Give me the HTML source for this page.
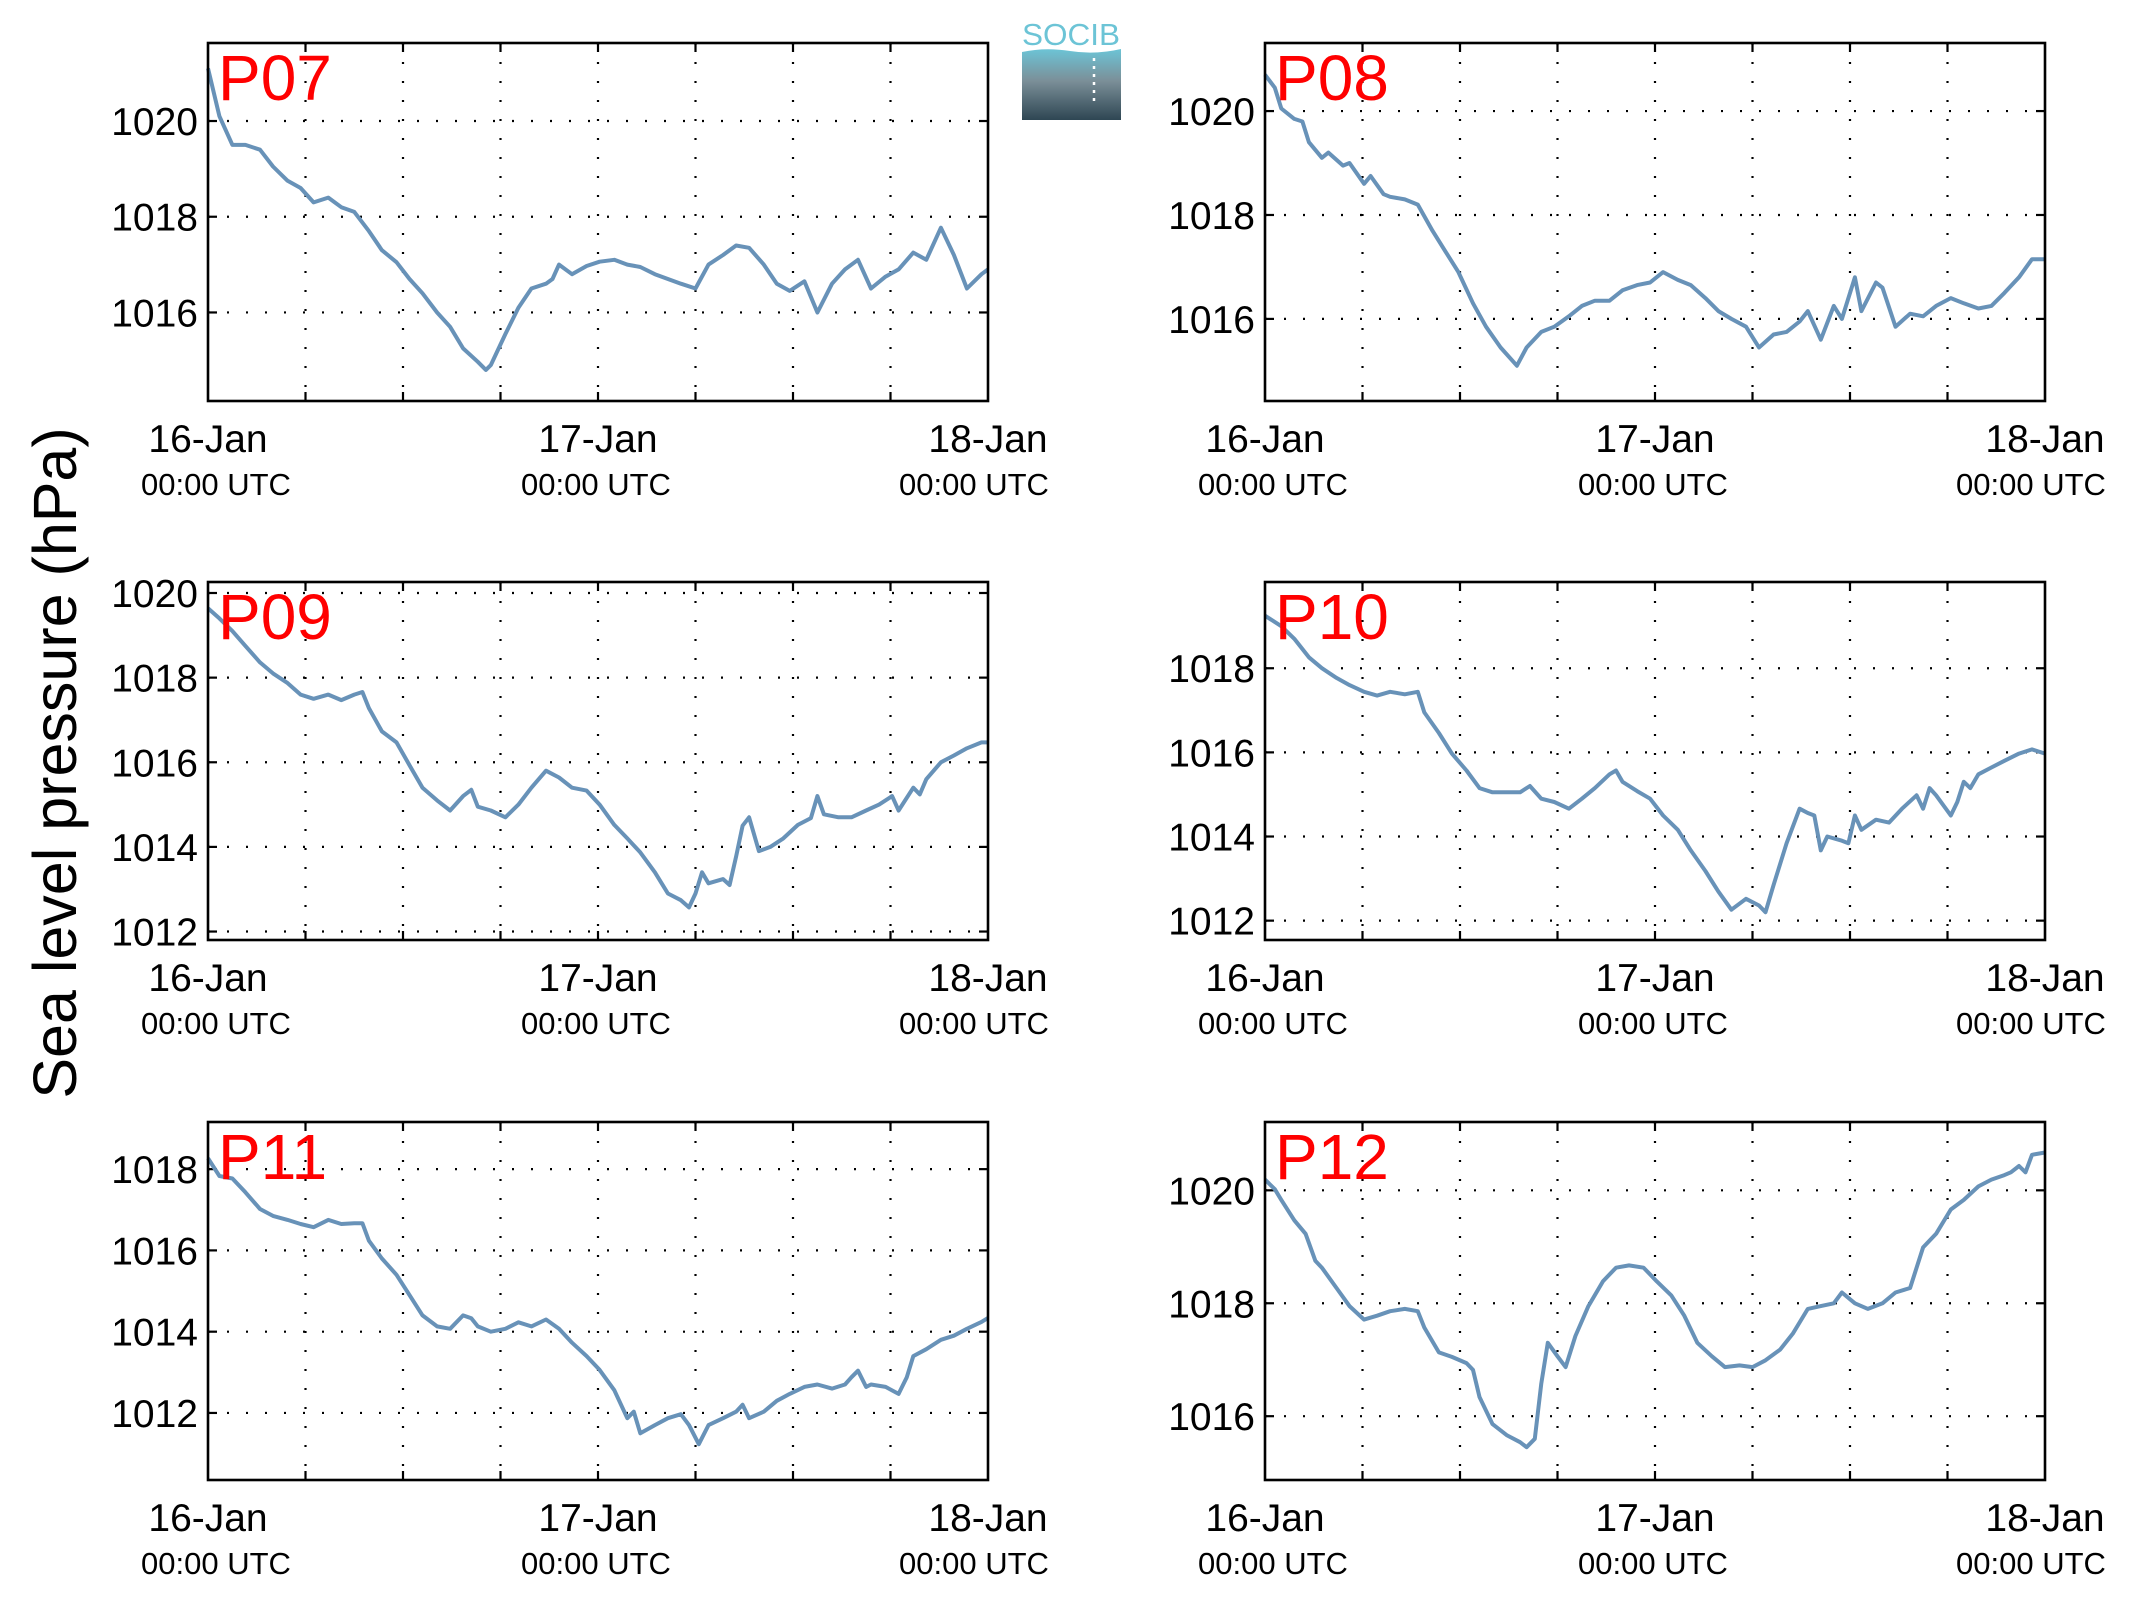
<!DOCTYPE html>
<html><head><meta charset="utf-8"><style>
html,body{margin:0;padding:0;background:#fff;}
svg{display:block;font-family:"Liberation Sans",Arial,sans-serif;}
</style></head><body>
<svg id="chart" width="2138" height="1608" viewBox="0 0 2138 1608" xmlns="http://www.w3.org/2000/svg">
<defs>
<linearGradient id="lg" x1="0" y1="0" x2="0" y2="1">
<stop offset="0" stop-color="#6cc4d6"/><stop offset="0.45" stop-color="#7b8f98"/><stop offset="1" stop-color="#2e4653"/>
</linearGradient>
</defs>
<text transform="translate(76,763) rotate(-90)" text-anchor="middle" font-size="61" fill="#000">Sea level pressure (hPa)</text>
<g>
<text x="1071" y="45" text-anchor="middle" font-size="31" fill="#6cc4d6" textLength="98" lengthAdjust="spacingAndGlyphs">SOCIB</text>
<path d="M1022,52 Q1045,47 1070,51 Q1095,55 1121,49 L1121,120 L1022,120 Z" fill="url(#lg)"/>
<line x1="1094" y1="58" x2="1094" y2="106" stroke="#fff" stroke-width="2.5" stroke-dasharray="3,5"/>
</g>
<g id="panels"></g>
</svg>
<script>
// ---- data (hours since 16-Jan 00:00 UTC, pressure hPa) ----
const xTickLabels = ["16-Jan","17-Jan","18-Jan"];
const xTickSub = "00:00 UTC";
const p07Hours = [0,0.7,1.5,2.3,3.2,4.0,4.9,5.7,6.5,7.4,8.2,9.0,9.9,10.7,11.6,12.4,13.2,14.1,14.9,15.7,16.6,17.1,17.4,18.3,19.1,19.9,20.8,21.2,21.6,22.4,23.3,24.1,25.0,25.8,26.6,27.5,28.3,29.1,30.0,30.8,31.7,32.5,33.3,34.2,35.0,35.8,36.7,37.5,38.4,39.2,40.0,40.8,41.7,42.5,43.4,44.2,45.1,45.9,46.7,47.6,48];
const p07Values = [1021.1,1020.1,1019.5,1019.5,1019.4,1019.05,1018.75,1018.6,1018.3,1018.4,1018.2,1018.1,1017.7,1017.3,1017.05,1016.7,1016.4,1016.0,1015.7,1015.25,1014.97,1014.8,1014.9,1015.55,1016.1,1016.5,1016.6,1016.7,1017.0,1016.8,1016.97,1017.06,1017.1,1017.0,1016.95,1016.8,1016.7,1016.6,1016.5,1017.0,1017.2,1017.4,1017.35,1017.0,1016.6,1016.45,1016.65,1016.0,1016.6,1016.9,1017.1,1016.5,1016.75,1016.9,1017.25,1017.1,1017.77,1017.2,1016.5,1016.8,1016.9];
const p08Hours = [0,0.6,1.0,1.8,2.3,2.7,3.5,3.9,4.8,5.2,6.1,6.5,7.3,7.7,8.6,9.4,10.3,11.1,11.9,12.8,13.6,14.5,15.5,16.1,17.0,17.8,18.7,19.5,20.3,21.2,22.0,22.9,23.7,24.5,25.4,26.2,27.1,27.9,28.7,29.6,30.4,31.3,32.1,32.9,33.4,34.2,35.0,35.5,36.3,36.7,37.6,38.0,38.8,39.7,40.5,41.3,42.2,43.0,43.9,44.7,45.5,46.4,47.2,48];
const p08Values = [1020.7,1020.45,1020.05,1019.85,1019.8,1019.4,1019.1,1019.2,1018.95,1019.0,1018.6,1018.75,1018.4,1018.35,1018.3,1018.2,1017.7,1017.3,1016.9,1016.3,1015.85,1015.45,1015.1,1015.45,1015.75,1015.85,1016.05,1016.25,1016.35,1016.35,1016.55,1016.65,1016.7,1016.9,1016.75,1016.65,1016.4,1016.15,1016.0,1015.85,1015.45,1015.7,1015.75,1015.95,1016.15,1015.6,1016.25,1016.0,1016.8,1016.15,1016.7,1016.6,1015.85,1016.1,1016.05,1016.25,1016.4,1016.3,1016.2,1016.25,1016.5,1016.8,1017.15,1017.15];
const p09Hours = [0,0.7,1.5,2.3,3.2,4.0,4.9,5.7,6.5,7.4,8.2,9.0,9.5,9.9,10.7,11.6,12.4,13.2,14.1,14.9,15.7,16.2,16.6,17.4,18.3,19.1,19.9,20.8,21.6,22.4,23.3,24.1,25.0,25.8,26.6,27.5,28.3,29.1,29.6,30.0,30.4,30.8,31.7,32.1,32.5,32.9,33.3,33.9,34.6,35.4,36.3,37.1,37.5,37.9,38.8,39.6,40.5,41.3,42.1,42.5,43.4,43.8,44.2,45.1,45.9,46.7,47.6,48];
const p09Values = [1019.64,1019.4,1019.1,1018.75,1018.36,1018.1,1017.87,1017.6,1017.5,1017.6,1017.47,1017.6,1017.66,1017.28,1016.73,1016.47,1015.93,1015.4,1015.1,1014.86,1015.2,1015.35,1014.95,1014.86,1014.7,1015.0,1015.4,1015.8,1015.64,1015.4,1015.33,1015.0,1014.52,1014.2,1013.87,1013.4,1012.9,1012.74,1012.57,1012.9,1013.4,1013.14,1013.24,1013.1,1013.77,1014.5,1014.7,1013.9,1014.0,1014.2,1014.52,1014.68,1015.2,1014.77,1014.7,1014.7,1014.86,1015.0,1015.2,1014.86,1015.4,1015.24,1015.6,1016.0,1016.16,1016.33,1016.47,1016.47];
const p10Hours = [0,1.0,1.8,2.7,3.5,4.4,5.2,6.1,6.9,7.7,8.6,9.4,9.8,10.7,11.5,12.4,13.2,14.0,14.9,15.7,16.3,17.0,17.8,18.7,19.5,20.3,21.2,21.6,22.0,22.9,23.7,24.5,25.4,26.2,27.1,27.9,28.7,29.6,30.4,30.8,31.3,32.1,32.9,33.4,33.8,34.2,34.6,35.5,35.9,36.3,36.7,37.6,38.4,39.2,40.1,40.5,40.9,41.3,42.2,42.6,43.0,43.4,43.9,44.7,45.5,46.4,47.2,48];
const p10Values = [1019.25,1019.0,1018.7,1018.26,1018.0,1017.77,1017.6,1017.44,1017.35,1017.44,1017.38,1017.44,1016.95,1016.46,1015.97,1015.57,1015.15,1015.05,1015.05,1015.05,1015.2,1014.9,1014.82,1014.66,1014.9,1015.15,1015.48,1015.57,1015.3,1015.08,1014.9,1014.5,1014.16,1013.67,1013.18,1012.69,1012.26,1012.52,1012.36,1012.2,1012.85,1013.84,1014.66,1014.56,1014.5,1013.67,1014.0,1013.9,1013.84,1014.5,1014.16,1014.4,1014.33,1014.66,1014.98,1014.66,1015.15,1014.98,1014.5,1014.82,1015.3,1015.15,1015.48,1015.64,1015.8,1015.97,1016.07,1015.97];
const p11Hours = [0,0.7,1.5,2.3,3.2,4.0,4.9,5.7,6.5,7.4,8.2,9.0,9.5,9.9,10.7,11.6,12.4,13.2,14.1,14.9,15.7,16.2,16.6,17.4,18.3,19.1,19.9,20.8,21.6,22.4,23.3,24.1,25.0,25.8,26.2,26.6,27.5,28.3,29.1,29.6,30.2,30.8,31.7,32.5,32.9,33.3,34.2,35.0,35.8,36.7,37.5,38.4,39.2,39.6,40.0,40.5,40.8,41.7,42.5,43.0,43.4,44.2,45.1,45.9,46.7,47.6,48];
const p11Values = [1018.27,1017.83,1017.77,1017.43,1017.02,1016.85,1016.75,1016.65,1016.57,1016.75,1016.65,1016.67,1016.67,1016.24,1015.8,1015.4,1014.9,1014.4,1014.13,1014.07,1014.4,1014.33,1014.13,1014.0,1014.07,1014.23,1014.13,1014.3,1014.07,1013.73,1013.4,1013.06,1012.56,1011.87,1012.03,1011.5,1011.7,1011.87,1011.97,1011.7,1011.23,1011.7,1011.87,1012.03,1012.2,1011.87,1012.03,1012.3,1012.47,1012.64,1012.7,1012.6,1012.7,1012.88,1013.04,1012.64,1012.7,1012.64,1012.47,1012.88,1013.4,1013.57,1013.8,1013.9,1014.07,1014.24,1014.34];
const p12Hours = [0,0.6,1.0,1.8,2.5,3.1,3.5,4.4,5.2,6.1,6.9,7.7,8.6,9.4,9.8,10.7,11.5,12.4,12.8,13.2,14.0,14.9,15.7,16.1,16.6,17.0,17.4,18.0,18.5,19.1,19.9,20.8,21.6,22.4,23.3,24.1,25.0,25.8,26.6,27.5,28.3,29.2,30.0,30.8,31.7,32.5,33.4,34.2,35.0,35.5,36.3,37.1,38.0,38.8,39.7,40.5,41.3,42.2,43.0,43.9,44.7,45.5,45.9,46.4,46.8,47.2,48];
const p12Values = [1020.19,1020.02,1019.83,1019.47,1019.23,1018.75,1018.63,1018.27,1017.95,1017.71,1017.78,1017.86,1017.9,1017.86,1017.57,1017.13,1017.05,1016.94,1016.82,1016.34,1015.86,1015.66,1015.54,1015.45,1015.6,1016.58,1017.3,1017.06,1016.87,1017.42,1017.95,1018.39,1018.63,1018.67,1018.63,1018.39,1018.14,1017.78,1017.3,1017.06,1016.87,1016.9,1016.87,1016.99,1017.18,1017.47,1017.9,1017.95,1018.0,1018.19,1018.0,1017.9,1018.0,1018.19,1018.27,1018.99,1019.23,1019.66,1019.83,1020.07,1020.19,1020.27,1020.32,1020.43,1020.32,1020.63,1020.67];
const p07Ticks = [1016,1018,1020], p08Ticks = [1016,1018,1020], p09Ticks = [1012,1014,1016,1018,1020];
const p10Ticks = [1012,1014,1016,1018], p11Ticks = [1012,1014,1016,1018], p12Ticks = [1016,1018,1020];
const p07Range = [1014.15,1021.63], p08Range = [1014.42,1021.31], p09Range = [1011.8,1020.26];
const p10Range = [1011.54,1020.05], p11Range = [1010.35,1019.16], p12Range = [1014.87,1021.21];

const NS = "http://www.w3.org/2000/svg";
const root = document.getElementById("panels");
function mk(tag, attrs, parent){ const e=document.createElementNS(NS,tag); for(const k in attrs) e.setAttribute(k,attrs[k]); parent.appendChild(e); return e; }

const panels = [
 {id:"p07",name:"P07",L:208,T:43,hours:p07Hours,vals:p07Values,ticks:p07Ticks,range:p07Range},
 {id:"p08",name:"P08",L:1265,T:43,hours:p08Hours,vals:p08Values,ticks:p08Ticks,range:p08Range},
 {id:"p09",name:"P09",L:208,T:582,hours:p09Hours,vals:p09Values,ticks:p09Ticks,range:p09Range},
 {id:"p10",name:"P10",L:1265,T:582,hours:p10Hours,vals:p10Values,ticks:p10Ticks,range:p10Range},
 {id:"p11",name:"P11",L:208,T:1122,hours:p11Hours,vals:p11Values,ticks:p11Ticks,range:p11Range},
 {id:"p12",name:"P12",L:1265,T:1122,hours:p12Hours,vals:p12Values,ticks:p12Ticks,range:p12Range}
];
const W=780, H=358;

panels.forEach(p=>{
  const g = mk("g",{},root);
  
  
  const xs = h => p.L + h/48*W;
  const ys = v => p.T + H - (v-p.range[0])/(p.range[1]-p.range[0])*H;
  // grid vertical every 6 h
  for(let h=6; h<48; h+=6){
    const gl = mk("line",{x1:xs(h),x2:xs(h),y1:p.T,y2:p.T+H,stroke:"#000","stroke-width":2.2,"stroke-dasharray":"2,17"},g);
    
    
    mk("line",{x1:xs(h),x2:xs(h),y1:p.T+H,y2:p.T+H-9,stroke:"#000","stroke-width":2.2},g);
    mk("line",{x1:xs(h),x2:xs(h),y1:p.T,y2:p.T+9,stroke:"#000","stroke-width":2.2},g);
  }
  p.ticks.forEach(t=>{
    const y = ys(t);
    const gl = mk("line",{x1:p.L,x2:p.L+W,y1:y,y2:y,stroke:"#000","stroke-width":2.2,"stroke-dasharray":"2,17"},g);
    
    
    mk("line",{x1:p.L,x2:p.L+9,y1:y,y2:y,stroke:"#000","stroke-width":2.2},g);
    mk("line",{x1:p.L+W-9,x2:p.L+W,y1:y,y2:y,stroke:"#000","stroke-width":2.2},g);
    const tl = mk("text",{x:p.L-10,y:y+14,"text-anchor":"end","font-size":39,fill:"#000"},g);
    tl.textContent = t;
    
    
  });
  // series line
  let d = "";
  p.hours.forEach((h,i)=>{ d += (i?"L":"M")+xs(h).toFixed(1)+","+ys(p.vals[i]).toFixed(1); });
  const line = mk("path",{d:d,fill:"none",stroke:"#6892b8","stroke-width":4,"stroke-linejoin":"round"},g);
  
  
  // frame
  const fr = mk("rect",{x:p.L,y:p.T,width:W,height:H,fill:"none",stroke:"#000","stroke-width":2.6},g);
  
  
  // x labels
  xTickLabels.forEach((lab,i)=>{
    const x = xs(i*24);
    const t1 = mk("text",{x:x,y:p.T+H+51,"text-anchor":"middle","font-size":39,fill:"#000"},g);
    t1.textContent = lab;
    
    
    const t2 = mk("text",{x:x+(i===0?8:(i===1?-2:-14)),y:p.T+H+94,"text-anchor":"middle","font-size":31,fill:"#000"},g);
    t2.textContent = xTickSub;
    
    
  });
  const pt = mk("text",{x:p.L+10,y:p.T+57,"font-size":64,fill:"#ff0000"},g);
  pt.textContent = p.name;
  
  
});
</script>
</body></html>
